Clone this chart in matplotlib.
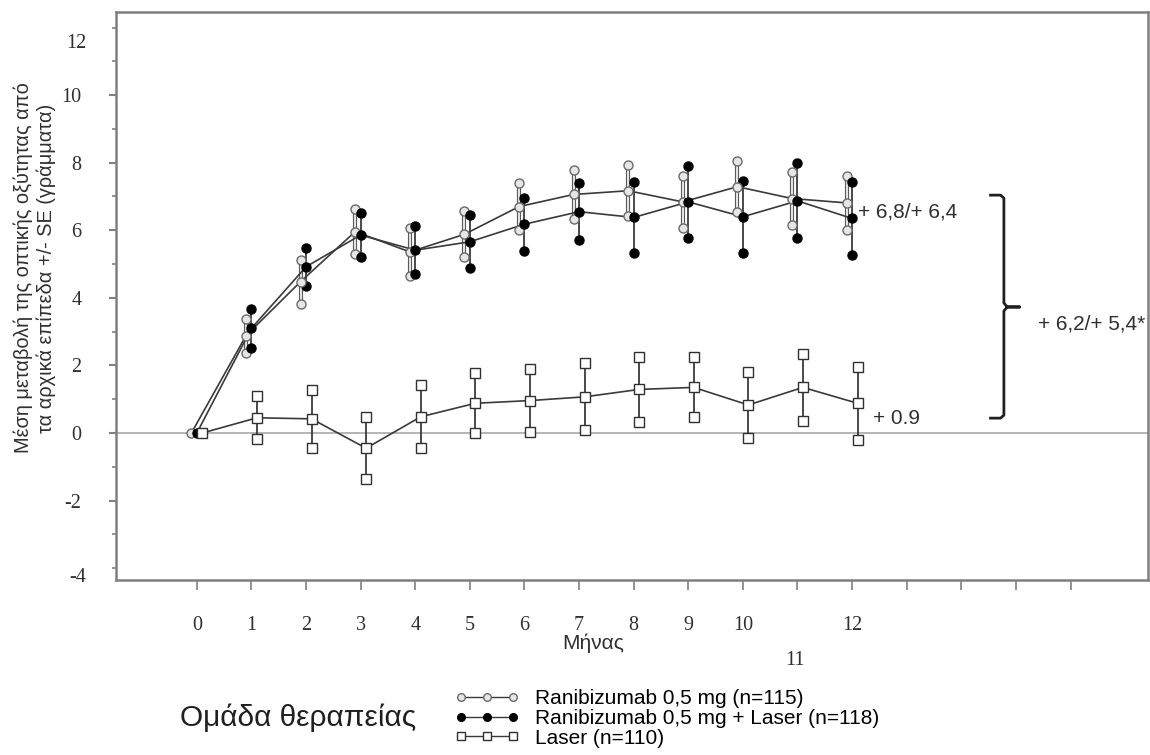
import matplotlib
matplotlib.use('Agg')
import matplotlib.pyplot as plt
import matplotlib.transforms as mtransforms
from matplotlib.lines import Line2D
import numpy as np

# Months of follow-up
months = [0, 1, 2, 3, 4, 5, 6, 7, 8, 9, 10, 11, 12]

# Ranibizumab 0,5 mg (n=115): mean change and SE
rani_mean = [0, 2.88, 4.48, 5.96, 5.36, 5.88, 6.70, 7.06, 7.17, 6.84, 7.29, 6.94, 6.81]
rani_se = [0, 0.50, 0.65, 0.67, 0.71, 0.68, 0.70, 0.72, 0.76, 0.77, 0.76, 0.79, 0.79]

# Ranibizumab 0,5 mg + Laser (n=118)
combo_mean = [0, 3.10, 4.92, 5.86, 5.41, 5.66, 6.18, 6.55, 6.38, 6.84, 6.40, 6.87, 6.35]
combo_se = [0, 0.58, 0.57, 0.65, 0.71, 0.78, 0.79, 0.84, 1.06, 1.07, 1.06, 1.11, 1.09]

# Laser (n=110)
laser_mean = [0, 0.45, 0.42, -0.45, 0.48, 0.88, 0.96, 1.07, 1.29, 1.35, 0.83, 1.35, 0.88]
laser_se = [0, 0.64, 0.85, 0.91, 0.93, 0.89, 0.93, 0.99, 0.97, 0.89, 0.98, 0.98, 1.08]

labels = ['Ranibizumab 0,5 mg (n=115)',
          'Ranibizumab 0,5 mg + Laser (n=118)',
          'Laser (n=110)']

xtick_labels = ['0', '1', '2', '3', '4', '5', '6', '7', '8', '9', '10', '', '12',
                '', '', '', '']

SANS = 'Liberation Sans'
SERIF = 'Liberation Serif'
AXCOL = '#808080'
LINECOL = '#3a3a3a'
TXT = '#303030'
TICKFS = 14.5
ANNFS = 15

fig = plt.figure(figsize=(11.5, 7.55), dpi=100)
ax = fig.add_axes([0.1009, 0.2318, 0.8974, 0.7523])

ax.axhline(0, color='#a8a8a8', linewidth=1.2, zorder=1)

# small horizontal shift between groups, as in the original
base = np.array(months, dtype=float)
series = [
    (base - 0.1, rani_mean, rani_se,
     dict(marker='o', mfc='#e6e6e6', mec='#6a6a6a', ms=6.5, mew=1.0), True),
    (base + 0.0, combo_mean, combo_se,
     dict(marker='o', mfc='black', mec='black', ms=6.5, mew=1.0), False),
    (base + 0.1, laser_mean, laser_se,
     dict(marker='s', mfc='white', mec='#303030', ms=6.5, mew=1.0), False),
]

handles = []
for (x, m, se, mk, hollow), lab in zip(series, labels):
    m = np.array(m)
    se = np.array(se)
    lo = m - se
    hi = m + se
    # error bars
    if hollow:
        ax.vlines(x[1:], lo[1:], hi[1:], color='#5a5a5a', linewidth=3.0, zorder=2)
        ax.vlines(x[1:], lo[1:], hi[1:], color='white', linewidth=1.2, zorder=2)
    else:
        ax.vlines(x[1:], lo[1:], hi[1:], color=LINECOL, linewidth=1.3, zorder=2)
    # mean line
    ax.plot(x, m, color=LINECOL, linewidth=1.2, zorder=3)
    # markers at bar ends and at the means
    ax.plot(x[1:], lo[1:], linestyle='none', zorder=4, **mk)
    ax.plot(x[1:], hi[1:], linestyle='none', zorder=4, **mk)
    ax.plot(x, m, linestyle='none', zorder=5, **mk)
    handles.append(Line2D([], [], color=LINECOL, linewidth=1.0, label=lab,
                          **{**mk, 'ms': 5.5}))

# axes limits and ticks
ax.set_xlim(-1.48, 17.42)
ax.set_ylim(-4.35, 12.46)
ax.set_xticks(range(0, 17))
ax.set_xticklabels(xtick_labels, fontfamily=SERIF, fontsize=TICKFS, color=TXT)
ax.set_yticks([-2, 0, 2, 4, 6, 8, 10])
ax.set_yticks([-4, 12] + [-3, -1, 1, 3, 5, 7, 9, 11], minor=True)
ax.set_yticklabels(['-2', '0', '2', '4', '6', '8', '10'], fontfamily=SERIF,
                   fontsize=TICKFS, color=TXT)
ax.tick_params(axis='x', direction='out', length=7, width=1.2, color=AXCOL, pad=19)
ax.tick_params(axis='y', which='major', direction='out', length=5, width=1.5,
               color=AXCOL, pad=20)
ax.tick_params(axis='y', which='minor', direction='out', length=3, width=1.2,
               color=AXCOL)
for sp in ax.spines.values():
    sp.set_color(AXCOL)
    sp.set_linewidth(1.8)

# the outer y labels sit a little off their ticks in the original
ytrans = mtransforms.blended_transform_factory(ax.transAxes, ax.transData)
ax.text(-0.029, 11.54, '12', transform=ytrans, ha='right', va='center',
        fontfamily=SERIF, fontsize=TICKFS, color=TXT)
ax.text(-0.029, -4.29, '-4', transform=ytrans, ha='right', va='center',
        fontfamily=SERIF, fontsize=TICKFS, color=TXT)

# "11" label dropped below the others
xtrans = mtransforms.blended_transform_factory(ax.transData, ax.transAxes)
ax.text(10.95, -0.142, '11', transform=xtrans, ha='center', va='center',
        fontfamily=SERIF, fontsize=TICKFS, color=TXT)

# axis titles
fig.text(593 / 1150, 1 - 643 / 755, 'Μήνας', ha='center', va='center',
         fontfamily=SANS, fontsize=ANNFS, color=TXT)
fig.text(35 / 1150, 1 - 268 / 755,
         'Μέση μεταβολή της οπτικής οξύτητας από\nτα αρχικά επίπεδα +/- SE (γράμματα)',
         rotation=90, ha='center', va='center', multialignment='center',
         fontfamily=SANS, fontsize=14.4, color=TXT, linespacing=1.25)

# end-of-study annotations
ax.text(12.1, 6.54, '+ 6,8/+ 6,4', ha='left', va='center', fontfamily=SANS,
        fontsize=ANNFS, color=TXT)
ax.text(12.38, 0.44, '+ 0.9', ha='left', va='center', fontfamily=SANS,
        fontsize=ANNFS, color=TXT)
ax.text(15.4, 3.22, '+ 6,2/+ 5,4*', ha='left', va='center', fontfamily=SANS,
        fontsize=ANNFS, color=TXT)

# bracket
bx = [14.51, 14.72, 14.78, 14.78, 14.84, 15.07, 14.84, 14.78, 14.78, 14.72, 14.51]
by = [7.04, 7.04, 6.95, 3.85, 3.73, 3.73, 3.73, 3.61, 0.53, 0.44, 0.44]
ax.plot(bx, by, color='#202020', linewidth=2.0, solid_joinstyle='round',
        solid_capstyle='butt', zorder=3)

# legend
fig.text(180 / 1150, 1 - 718 / 755, 'Ομάδα θεραπείας', ha='left', va='center',
         fontfamily=SANS, fontsize=21.5, color='#202020')
fig.legend(handles=handles, loc='upper left', bbox_to_anchor=(0.3957, 0.0868),
           frameon=False, numpoints=3, handlelength=3.1, handletextpad=0.72,
           labelspacing=0.03, borderpad=0, borderaxespad=0,
           prop={'family': SANS, 'size': 15})

fig.savefig('out.png', dpi=100)
